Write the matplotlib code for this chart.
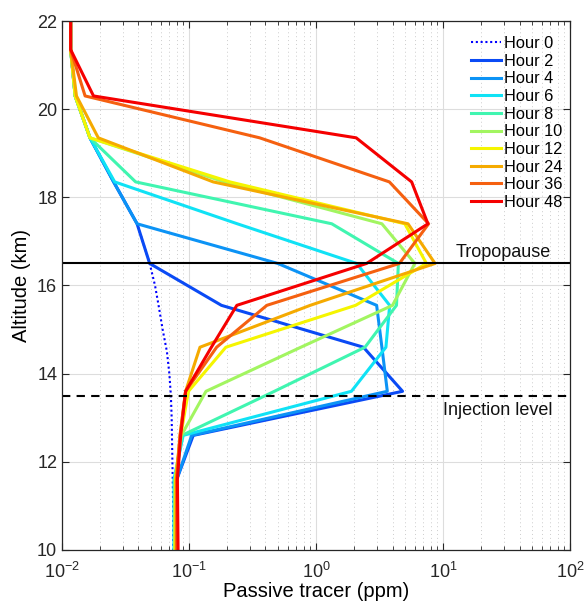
import matplotlib
matplotlib.use("Agg")
import matplotlib.pyplot as plt
import numpy as np
from matplotlib.ticker import LogLocator, NullFormatter

plt.rcParams['font.family'] = ['Liberation Sans', 'DejaVu Sans']
plt.rcParams['mathtext.fontset'] = 'custom'
plt.rcParams['mathtext.rm'] = 'Liberation Sans'

# model levels (km)
levels = [22.0, 21.35, 20.3, 19.35, 18.35, 17.4, 16.5, 15.55, 14.6, 13.6, 12.6, 11.6, 10.0]

# hour 0 profile, finer sampling
alt0 = [22.0, 21.35, 20.3, 19.35, 18.35, 17.4, 16.5, 16.0, 15.5, 15.0, 14.5, 14.0, 13.5, 13.0, 12.0, 11.0, 10.0]
hour0 = [0.0117, 0.0117, 0.0127, 0.0166, 0.0255, 0.039, 0.049, 0.054, 0.058, 0.062, 0.067, 0.070, 0.072, 0.073, 0.074, 0.075, 0.075]

hour2 = [0.0117, 0.0117, 0.0127, 0.0166, 0.0255, 0.039, 0.049, 0.18, 2.36, 4.8, 0.108, 0.080, 0.078]
hour4 = [0.0117, 0.0117, 0.0127, 0.0166, 0.0255, 0.039, 0.50, 3.0, 3.3, 3.64, 0.105, 0.080, 0.077]
hour6 = [0.0117, 0.0117, 0.0127, 0.0166, 0.026, 0.24, 2.09, 3.8, 3.55, 1.9, 0.090, 0.076, 0.076]
hour8 = [0.0117, 0.0117, 0.0127, 0.0166, 0.038, 1.33, 4.45, 4.3, 2.43, 0.47, 0.088, 0.078, 0.077]
hour10 = [0.0117, 0.0117, 0.0127, 0.0166, 0.19, 3.3, 6.0, 4.0, 0.76, 0.136, 0.087, 0.078, 0.077]
hour12 = [0.0117, 0.0117, 0.0127, 0.0166, 0.21, 5.0, 7.4, 2.05, 0.195, 0.099, 0.086, 0.078, 0.078]
hour24 = [0.0117, 0.0117, 0.013, 0.0193, 0.155, 5.3, 8.65, 0.9, 0.122, 0.094, 0.085, 0.079, 0.079]
hour36 = [0.0117, 0.0117, 0.0152, 0.36, 3.78, 7.7, 4.53, 0.41, 0.165, 0.094, 0.085, 0.080, 0.080]
hour48 = [0.0117, 0.0117, 0.0177, 2.07, 5.66, 7.6, 2.5, 0.238, 0.15, 0.094, 0.086, 0.081, 0.082]

labels = ["Hour 2", "Hour 4", "Hour 6", "Hour 8", "Hour 10", "Hour 12", "Hour 24", "Hour 36", "Hour 48"]
series = [hour2, hour4, hour6, hour8, hour10, hour12, hour24, hour36, hour48]
colors = ["#0a4af5", "#0c93f5", "#10e2f5", "#40f5b0", "#a2f560", "#f5f500", "#f5aa00", "#f56010", "#f50000"]

tropopause = 16.5
injection = 13.5

fig = plt.figure(figsize=(5.86, 6.02), dpi=100)
ax = fig.add_axes([0.1058, 0.0864, 0.867, 0.8787])

ax.plot(hour0, alt0, color="#0000ff", lw=1.5, ls=(0, (1, 1.3)), label="Hour 0")
for vals, lab, col in zip(series, labels, colors):
  ax.plot(vals, levels, '-', color=col, lw=2.2, label=lab)

ax.axhline(tropopause, color='k', lw=1.5)
ax.axhline(injection, color='k', lw=1.5, ls=(0, (4, 3)))
ax.text(30, tropopause + 0.05, "Tropopause", ha='center', va='bottom', fontsize=13, color='#111111')
ax.text(27, injection - 0.15, "Injection level", ha='center', va='top', fontsize=13, color='#111111')

ax.set_xscale('log')
ax.set_xlim(1e-2, 1e2)
ax.set_ylim(10, 22)
ax.set_yticks(np.arange(10, 23, 2))
ax.xaxis.set_major_locator(LogLocator(base=10, numticks=10))
ax.xaxis.set_minor_locator(LogLocator(base=10, subs=np.arange(2, 10), numticks=50))
ax.xaxis.set_minor_formatter(NullFormatter())

ax.grid(True, which='major', color='#dddddd', lw=0.8)
ax.grid(True, which='minor', axis='x', color='#cccccc', lw=0.7, ls=(0, (1, 3)))
ax.set_axisbelow(True)

ax.tick_params(which='both', direction='in', top=True, right=True, colors='#262626', labelsize=13)
ax.tick_params(which='major', length=5)
ax.tick_params(which='minor', length=3)
ax.tick_params(axis='x', which='major', pad=8.5)
for s in ax.spines.values():
  s.set_color('#262626')
  s.set_linewidth(0.9)

ax.set_xlabel("Passive tracer (ppm)", fontsize=14.5, labelpad=0)
ax.set_ylabel("Altitude (km)", fontsize=14.5, labelpad=4)

ax.legend(loc='upper right', bbox_to_anchor=(1.007, 0.993), frameon=False, fontsize=11.8,
  handlelength=1.85, handletextpad=0.15, labelspacing=0.16, borderaxespad=0.3)

fig.savefig("out.png", dpi=100)
